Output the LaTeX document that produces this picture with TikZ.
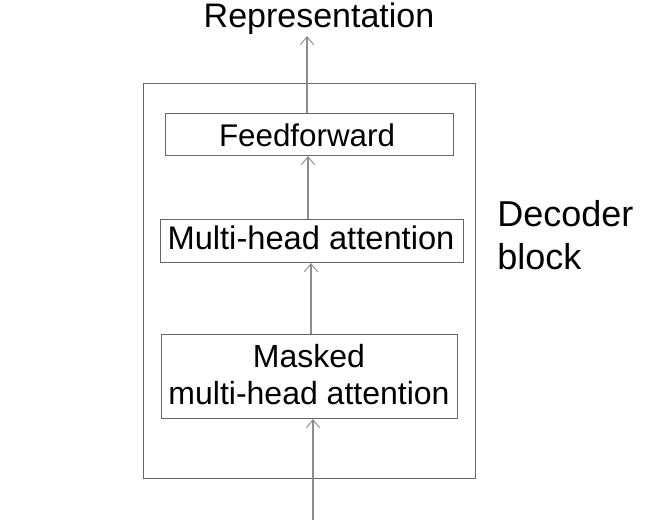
\documentclass[tikz,border=0pt]{standalone}
\usepackage{fontspec}
\setmainfont{Liberation Sans}
\usetikzlibrary{arrows.meta}
\begin{document}
\begin{tikzpicture}[x=0.75pt,y=-0.75pt,
  box/.style={draw=black!60, line width=0.8pt, inner sep=0pt, anchor=north west},
  txt/.style={font=\fontsize{23.5}{27.75}\selectfont, text=black, inner sep=0pt, anchor=base},
  arr/.style={draw=black!45, line width=0.8pt, -{Straight Barb[length=6pt,width=10pt,line width=0.7pt]}}]
\useasboundingbox (0,0) rectangle (668,530);
\node[box, minimum width=332*0.75pt, minimum height=395*0.75pt] (outer) at (143,83) {};
\node[box, minimum width=288*0.75pt, minimum height=42*0.75pt] (ff) at (165,113) {};
\node[txt] (fft) at (307,147) {Feedforward};
\node[box, minimum width=303*0.75pt, minimum height=43*0.75pt] (mh) at (160,219) {};
\node[txt, font=\fontsize{24.5}{28}\selectfont] (mht) at (311,250) {Multi-head attention};
\node[box, minimum width=296*0.75pt, minimum height=84*0.75pt] (mm) at (161,334) {};
\node[txt, align=center, font=\fontsize{24}{27.75}\selectfont] (mmt) at (309,405) {Masked\\multi-head attention};
\node[txt, font=\fontsize{25.5}{30}\selectfont] (rep) at (319,28) {Representation};
\node[txt, anchor=base west, align=left, font=\fontsize{27}{32.25}\selectfont] (dec) at (497,270) {Decoder\\block};
\coordinate (in) at (313,520);
\coordinate (top) at (307,36);
\draw[arr] (in) -- (mm.south -| in);
\draw[arr] (mm.north -| 311,0) -- (mh.south -| 311,0);
\draw[arr] (mh.north -| 308,0) -- (ff.south -| 308,0);
\draw[arr] (ff.north -| top) -- (top);
\end{tikzpicture}
\end{document}
